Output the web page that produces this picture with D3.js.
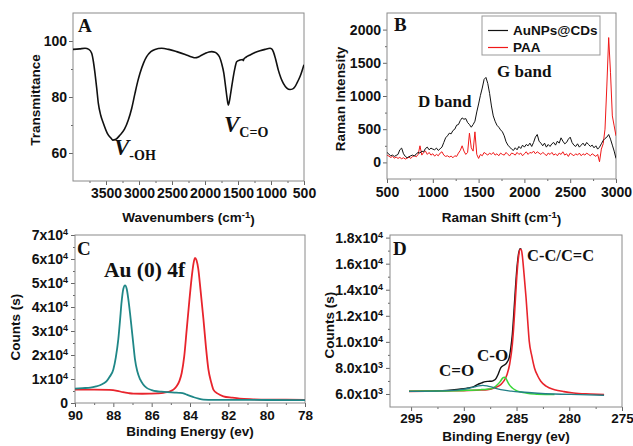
<!DOCTYPE html>
<html>
<head>
<meta charset="utf-8">
<script src="https://cdn.jsdelivr.net/npm/d3@7"></script>
<style>
    body { margin: 0; background: #fff; }
    svg text { font-family: "Liberation Sans", Arial, sans-serif; fill: #111; }
    .tick text { font-weight: bold; font-size: 14px; }
    .tick line { stroke: #666; }
    .frame { fill: none; stroke: #8a8a8a; stroke-width: 1; }
    .axis-title { font-weight: bold; font-size: 13.5px; }
    svg text.note { font-family: "Liberation Serif", "Times New Roman", serif; font-weight: bold; }
</style>
</head>
<body>
<svg id="chart" width="633" height="446"></svg>
<script>
// ---- Panel A: FTIR ----
const ftirWavenumber = [4000, 3900, 3818, 3760, 3717, 3690, 3667, 3640, 3616, 3580, 3540, 3480, 3414, 3400, 3350,
    3288, 3220, 3162, 3110, 3061, 3020, 2985, 2930, 2884, 2820, 2758, 2657, 2550, 2429, 2300, 2200, 2151, 2100,
    2076, 2000, 1940, 1899, 1850, 1823, 1780, 1748, 1715, 1688, 1665, 1647, 1630, 1611, 1590, 1571, 1545, 1520,
    1470, 1430, 1420, 1410, 1380, 1318, 1250, 1167, 1090, 1015, 990, 965, 930, 889, 850, 813, 760, 712, 670, 636,
    600, 560, 510, 500];
const ftirTransmittance = [97.0, 97.2, 97.4, 97.0, 95.6, 92.5, 88.5, 83.0, 77.7, 73.5, 70.6, 67.0, 65.0, 64.6, 64.9,
    66.4, 68.5, 71.8, 76.0, 81.3, 85.5, 88.5, 92.2, 94.4, 96.2, 97.0, 97.4, 97.0, 96.2, 95.2, 94.3, 94.0, 94.3,
    94.6, 95.5, 96.1, 96.2, 96.0, 95.6, 94.3, 92.0, 88.5, 83.7, 79.5, 77.1, 78.5, 81.3, 84.5, 87.3, 90.5, 92.6,
    93.2, 93.4, 93.0, 93.6, 94.2, 95.0, 95.8, 96.5, 97.0, 97.4, 97.2, 96.2, 93.5, 89.6, 86.8, 84.9, 83.2, 82.7, 82.9, 83.7,
    85.3, 87.3, 90.8, 91.5];
const ftirXTicks = [3500, 3000, 2500, 2000, 1500, 1000, 500];
const ftirYTicks = [60, 80, 100];

// ---- Panel B: Raman ----
const ramanShift = [500, 520, 540, 560, 580, 600, 620, 640, 660, 680,
    700, 720, 740, 760, 780, 800, 820, 840, 860, 880,
    900, 920, 940, 960, 980, 1000, 1020, 1040, 1060, 1080,
    1100, 1120, 1140, 1160, 1180, 1200, 1220, 1240, 1260, 1280,
    1300, 1320, 1340, 1360, 1380, 1400, 1420, 1440, 1460, 1480,
    1500, 1520, 1540, 1560, 1580, 1600, 1620, 1640, 1660, 1680,
    1700, 1720, 1740, 1760, 1780, 1800, 1820, 1840, 1860, 1880,
    1900, 1920, 1940, 1960, 1980, 2000, 2020, 2040, 2060, 2080,
    2100, 2120, 2140, 2160, 2180, 2200, 2220, 2240, 2260, 2280,
    2300, 2320, 2340, 2360, 2380, 2400, 2420, 2440, 2460, 2480,
    2500, 2520, 2540, 2560, 2580, 2600, 2620, 2640, 2660, 2680,
    2700, 2720, 2740, 2760, 2780, 2800, 2820, 2840, 2860, 2880,
    2900, 2920, 2940, 2960, 2980, 3000];
const ramanAuNPs = [150, 125, 100, 110, 90, 105, 120, 190, 215, 130,
    90, 70, 85, 100, 110, 95, 130, 150, 140, 170,
    160, 210, 230, 190, 215, 200, 190, 215, 180, 205,
    230, 300, 370, 400, 440, 430, 480, 500, 560, 570,
    630, 670, 650, 660, 600, 570, 530, 570, 620, 760,
    880, 1010, 1120, 1250, 1280, 1190, 1040, 850, 700, 620,
    560, 530, 490, 460, 400, 310, 260, 230, 200, 180,
    220, 190, 240, 210, 260, 230, 270, 250, 290, 240,
    300, 380, 420, 320, 290, 250, 290, 230, 270, 240,
    280, 300, 260, 320, 290, 370, 320, 280, 300, 350,
    380, 300, 260, 240, 280, 230, 260, 290, 250, 300,
    270, 240, 260, 220, 250, 200, 230, 280, 330, 360,
    380, 420, 350, 260, 170, 60];
const ramanPAA = [110, 95, 75, 90, 65, 80, 60, 75, 55, 70,
    50, 65, 80, 60, 90, 100, 85, 120, 250, 110,
    150, 170, 120, 150, 110, 130, 95, 120, 100, 140,
    160, 110, 90, 100, 80, 95, 70, 100, 90, 140,
    180, 250, 170, 120, 150, 440, 220, 170, 460, 120,
    60, 120, 100, 150, 130, 110, 140, 120, 150, 110,
    130, 100, 140, 120, 110, 150, 120, 100, 140, 130,
    110, 150, 120, 140, 100, 130, 160, 120, 150, 140,
    170, 130, 160, 140, 120, 150, 130, 100, 140, 120,
    150, 110, 130, 100, 140, 120, 160, 110, 130, 90,
    140, 120, 100, 130, 110, 140, 100, 130, 110, 140,
    120, 100, 130, 110, 90, 120, 10, 200, 280, 500,
    1150, 1880, 1350, 700, 550, 400];
const ramanSeriesNames = ['AuNPs@CDs', 'PAA'];
const ramanXTicks = [500, 1000, 1500, 2000, 2500, 3000];
const ramanYTicks = [0, 500, 1000, 1500, 2000];

// ---- Panel C: Au 4f XPS ----
const au4f52Energy = [90, 89.6, 89.2, 88.9, 88.7, 88.5, 88.35, 88.2, 88.0, 87.87, 87.74, 87.65, 87.57, 87.48, 87.39,
    87.3, 87.22, 87.13, 87.04, 86.95, 86.87, 86.75, 86.6, 86.45, 86.26, 86.0, 85.74, 85.5, 85.2, 84.8, 84.5, 84.3,
    84.17, 84.0, 83.8, 83.55, 83.3, 82.8, 81.7, 80, 78];
const au4f52Counts = [6000, 6200, 6400, 6900, 7400, 8200, 9100, 10800, 14000, 19000, 26600, 34500, 42000, 47500, 49000,
    47500, 43400, 37500, 30800, 24000, 18200, 13200, 9800, 7800, 6300, 5400, 4900, 4700, 4500, 4350, 4200, 3900,
    3500, 3000, 2400, 1800, 1400, 1300, 1300, 1250, 1200];
const au4f72Energy = [90, 89, 88.2, 87.8, 87.5, 87.2, 86.96, 86.5, 86.1, 85.7, 85.4, 85.2, 85.04, 84.85, 84.7, 84.55,
    84.43, 84.3, 84.17, 84.03, 83.9, 83.82, 83.74, 83.66, 83.57, 83.45, 83.3, 83.17, 83.04, 82.9, 82.78, 82.55,
    82.26, 81.8, 81.4, 80.7, 80, 79, 78];
const au4f72Counts = [5600, 5600, 5500, 5100, 4500, 4100, 3900, 3850, 3900, 4000, 4200, 4500, 4900, 5700, 7000, 9200,
    12600, 19500, 30800, 43000, 53200, 58000, 60500, 59500, 56000, 47000, 35000, 23500, 14000, 8800, 5600, 3900,
    2800, 2200, 1800, 1550, 1400, 1350, 1300];
const auXTicks = [90, 88, 86, 84, 82, 80, 78];
const auYTicks = [0, 10000, 20000, 30000, 40000, 50000, 60000, 70000];

// ---- Panel D: C 1s XPS ----
const c1sTotalEnergy = [295.2, 293, 292, 290.9, 290, 289.6, 289, 288.7, 288.3, 288.07, 287.7, 287.4, 287.2, 286.97,
    286.75, 286.5, 286.2, 286.0, 285.85, 285.7, 285.55, 285.4, 285.25, 285.1, 284.95, 284.8, 284.65, 284.55];
const c1sTotalCounts = [6200, 6240, 6260, 6330, 6400, 6460, 6580, 6720, 6850, 6930, 6970, 6980, 7030, 7160,
    7500, 8010, 8200, 8320, 8500, 8780, 9500, 10580, 12300, 14190, 15800, 16800, 17150, 17120];
const c1sCCEnergy = [295.2, 292, 290, 288.5, 287.75, 287, 286.5, 286.2, 285.9, 285.65, 285.4, 285.25, 285.1, 284.95,
    284.8, 284.65, 284.55, 284.45, 284.3, 284.1, 283.95, 283.8, 283.55, 283.3, 283.0, 282.7, 282.2, 281.4, 280.5,
    279.6, 278, 276.7];
const c1sCCCounts = [6200, 6230, 6260, 6300, 6330, 6500, 6720, 7000, 7500, 8300, 9800, 11400, 13400, 15300,
    16600, 17100, 17080, 16600, 15300, 13400, 11700, 10070, 8900, 8000, 7400, 6980, 6600, 6330, 6180,
    6080, 6000, 5950];
const c1sCOEnergy = [295.2, 292, 290, 288.4, 287.8, 287.4, 287.1, 286.8, 286.55, 286.3, 286.15, 286.0, 285.9, 285.75,
    285.6, 285.4, 285.1, 284.6, 284, 283.3, 282, 281.4];
const c1sCOCounts = [6200, 6230, 6270, 6330, 6370, 6410, 6520, 6720, 6950, 7240, 7290, 7200, 7030, 6800,
    6620, 6460, 6300, 6150, 6060, 6000, 5960, 5950];
const c1sCdOEnergy = [295.2, 292, 290.3, 289.5, 289.0, 288.6, 288.2, 287.8, 287.4, 287.0, 286.5, 285.5, 284.6, 283,
    281.4, 279, 276.7];
const c1sCdOCounts = [6200, 6240, 6330, 6440, 6540, 6620, 6660, 6620, 6540, 6440, 6330, 6220, 6150, 6060,
    6000, 5950, 5900];
const c1sXTicks = [295, 290, 285, 280, 275];
const c1sYTicks = [6000, 8000, 10000, 12000, 14000, 16000, 18000];

const svg = d3.select('#chart');
let clipCount = 0;

// Build one framed panel with its scales
function makePanel(box, xDomain, yDomain) {
    const x = d3.scaleLinear().domain(xDomain).range([box.left, box.right]);
    const y = d3.scaleLinear().domain(yDomain).range([box.bottom, box.top]);
    const clipId = 'clip' + (clipCount++);
    svg.append('clipPath').attr('id', clipId).append('rect')
        .attr('x', box.left).attr('y', box.top)
        .attr('width', box.right - box.left).attr('height', box.bottom - box.top);
    const g = svg.append('g');
    const plot = svg.append('g').attr('clip-path', `url(#${clipId})`);
    return { box, x, y, g, plot };
}

// Major + minor ticks on bottom and left, gray frame around
function drawAxes(p, o) {
    const b = p.box;
    p.g.append('g').attr('transform', `translate(0,${b.bottom})`)
        .call(d3.axisBottom(p.x).tickValues(o.xMinor).tickSize(2).tickSizeOuter(0).tickFormat(''))
        .call(s => s.select('.domain').remove());
    const xa = p.g.append('g').attr('transform', `translate(0,${b.bottom})`)
        .call(d3.axisBottom(p.x).tickValues(o.xTicks).tickSize(4).tickSizeOuter(0).tickPadding(o.xPad)
            .tickFormat(d3.format('d')))
        .call(s => s.select('.domain').remove());
    p.g.append('g').attr('transform', `translate(${b.left},0)`)
        .call(d3.axisLeft(p.y).tickValues(o.yMinor).tickSize(2).tickSizeOuter(0).tickFormat(''))
        .call(s => s.select('.domain').remove());
    const ya = p.g.append('g').attr('transform', `translate(${b.left},0)`)
        .call(d3.axisLeft(p.y).tickValues(o.yTicks).tickSize(4).tickSizeOuter(0).tickPadding(o.yPad)
            .tickFormat(d3.format('d')))
        .call(s => s.select('.domain').remove());
    xa.selectAll('text').attr('fill', '#111');
    ya.selectAll('text').attr('fill', '#111');
    if (o.xFont) xa.selectAll('text').style('font-size', o.xFont + 'px');
    if (o.ySci) {
        ya.selectAll('.tick text').each(function(d) {
            const t = d3.select(this);
            const parts = o.ySci(d);
            t.text(null);
            t.append('tspan').text(parts[0]);
            if (parts[1]) t.append('tspan').attr('dy', '-0.5em').style('font-size', '9px').text(parts[1]);
        });
    }
    p.g.append('rect').attr('class', 'frame')
        .attr('x', b.left).attr('y', b.top)
        .attr('width', b.right - b.left).attr('height', b.bottom - b.top);
}

function axisTitles(p, xTitle, xBase, yTitle, yBase, yCenter, sup) {
    const xt = svg.append('text').attr('class', 'axis-title')
        .attr('x', (p.box.left + p.box.right) / 2).attr('y', xBase)
        .attr('text-anchor', 'middle');
    xt.append('tspan').text(xTitle);
    if (sup) {
        xt.append('tspan').attr('dy', '-0.45em').style('font-size', '9.5px').text(sup);
        xt.append('tspan').attr('dy', '0.45em').text(')');
    }
    svg.append('text').attr('class', 'axis-title')
        .attr('transform', `translate(${yBase},${yCenter}) rotate(-90)`)
        .attr('text-anchor', 'middle').text(yTitle);
}

function drawLine(p, xs, ys, color, width, curve) {
    const line = d3.line()
        .x(d => p.x(d[0])).y(d => p.y(d[1]))
        .curve(curve || d3.curveMonotoneX);
    p.plot.append('path').datum(d3.zip(xs, ys))
        .attr('d', line).attr('fill', 'none')
        .attr('stroke', color).attr('stroke-width', width)
        .attr('stroke-linejoin', 'round');
}

function note(x, y, size, str) {
    return svg.append('text').attr('class', 'note').attr('x', x).attr('y', y)
        .style('font-size', size + 'px').text(str);
}

// ---------------- Panel A ----------------
const pA = makePanel({ left: 73, right: 304, top: 13, bottom: 181 }, [4000, 500], [50, 110]);
drawAxes(pA, {
    xTicks: ftirXTicks, xMinor: [3750, 3250, 2750, 2250, 1750, 1250, 750],
    yTicks: ftirYTicks, yMinor: [70, 90], xPad: 3, yPad: 2
});
drawLine(pA, ftirWavenumber, ftirTransmittance, '#111', 1.6);
axisTitles(pA, 'Wavenumbers (cm', 222, 'Transmittance', 40, 100, '-1');
note(78, 32, 19, 'A');
const vOH = svg.append('text').attr('class', 'note').attr('x', 114).attr('y', 155);
vOH.append('tspan').style('font-size', '23px').style('font-style', 'italic').text('V');
vOH.append('tspan').attr('dy', 5).style('font-size', '14px').text('-OH');
const vCO = svg.append('text').attr('class', 'note').attr('x', 224).attr('y', 132);
vCO.append('tspan').style('font-size', '23px').style('font-style', 'italic').text('V');
vCO.append('tspan').attr('dy', 5).style('font-size', '14px').text('C=O');

// ---------------- Panel B ----------------
const pB = makePanel({ left: 387, right: 616, top: 13, bottom: 179 }, [500, 3000], [-250, 2250]);
drawAxes(pB, {
    xTicks: ramanXTicks, xMinor: [750, 1250, 1750, 2250, 2750],
    yTicks: ramanYTicks, yMinor: [250, 750, 1250, 1750], xPad: 4, yPad: 2
});
drawLine(pB, ramanShift, ramanPAA, '#f01818', 1, d3.curveLinear);
drawLine(pB, ramanShift, ramanAuNPs, '#111', 1, d3.curveLinear);
axisTitles(pB, 'Raman Shift (cm', 222, 'Raman Intensity', 345, 99, '-1');
note(394, 31, 19, 'B');
note(418, 107, 17, 'D band');
note(497, 77, 17, 'G band');

// legend
const legend = svg.append('g');
legend.append('rect').attr('x', 482).attr('y', 16).attr('width', 118).attr('height', 39)
    .attr('fill', '#fff').attr('stroke', '#999');
ramanSeriesNames.forEach((name, i) => {
    const ly = 30.5 + i * 17;
    legend.append('line').attr('x1', 488).attr('x2', 508).attr('y1', ly).attr('y2', ly)
        .attr('stroke', i === 0 ? '#111' : '#f01818').attr('stroke-width', 1.2);
    legend.append('text').attr('x', 513).attr('y', ly + 4.5)
        .style('font-size', '13.5px').style('font-weight', 'bold').text(name);
});

// ---------------- Panel C ----------------
const pC = makePanel({ left: 75, right: 305, top: 235, bottom: 403 }, [90, 78], [0, 70000]);
drawAxes(pC, {
    xTicks: auXTicks, xMinor: [89, 87, 85, 83, 81, 79],
    yTicks: auYTicks, yMinor: [5000, 15000, 25000, 35000, 45000, 55000, 65000], xPad: 3, yPad: 3, xFont: 13.5,
    ySci: v => v === 0 ? ['0', null] : [(v / 1e4) + 'x10', '4']
});
drawLine(pC, au4f72Energy, au4f72Counts, '#e8242c', 1.8);
drawLine(pC, au4f52Energy, au4f52Counts, '#1f8787', 1.8);
axisTitles(pC, 'Binding Energy (ev)', 436, 'Counts (s)', 20, 327);
note(77, 255, 19, 'C');
note(104, 277, 21.5, 'Au (0) 4f');

// ---------------- Panel D ----------------
const pD = makePanel({ left: 390, right: 622, top: 235, bottom: 407 }, [297, 275], [5000, 18200]);
drawAxes(pD, {
    xTicks: c1sXTicks, xMinor: [292.5, 287.5, 282.5, 277.5],
    yTicks: c1sYTicks, yMinor: [7000, 9000, 11000, 13000, 15000, 17000], xPad: 2, yPad: 3, xFont: 13.5,
    ySci: v => v >= 10000 ? [(v / 1e4).toFixed(1) + 'x10', '4'] : [(v / 1e3).toFixed(1) + 'x10', '3']
});
drawLine(pD, c1sTotalEnergy, c1sTotalCounts, '#111', 1.4);
drawLine(pD, c1sCCEnergy, c1sCCCounts, '#e8242c', 1.6);
drawLine(pD, c1sCOEnergy, c1sCOCounts, '#3ad83a', 1.5);
drawLine(pD, c1sCdOEnergy, c1sCdOCounts, '#237f86', 1.4);
axisTitles(pD, 'Binding Energy (ev)', 441, 'Counts (s)', 334, 325);
note(393, 255, 19, 'D');
note(527, 261, 16.5, 'C-C/C=C');
note(477, 361, 17, 'C-O');
note(439, 376, 17, 'C=O');
</script>
</body>
</html>
